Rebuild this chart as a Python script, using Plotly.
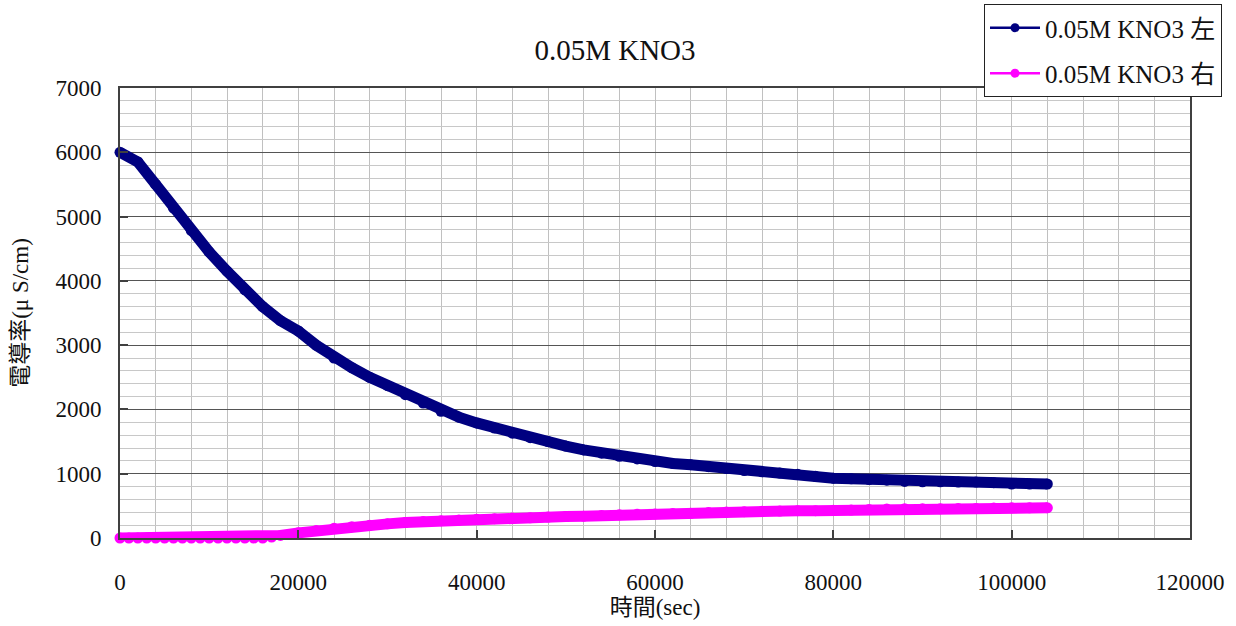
import plotly.graph_objects as go

# Measurement times (seconds), left cell
time_left = [0, 2000, 4000, 6000, 8000, 10000, 12000, 14000, 16000, 18000,
             20000, 22000, 24000, 26000, 28000, 30000, 32000, 34000, 36000, 38000,
             40000, 42000, 44000, 46000, 48000, 50000, 52000, 54000, 56000, 58000,
             60000, 62000, 64000, 66000, 68000, 70000, 72000, 74000, 76000, 78000,
             80000, 82000, 84000, 86000, 88000, 90000, 92000, 94000, 96000, 98000,
             100000, 102000, 104000]

# Conductivity, left cell (uS/cm)
cond_left = [6000, 5850, 5500, 5130, 4780, 4450, 4150, 3860, 3600, 3380,
             3220, 3000, 2800, 2650, 2500, 2370, 2230, 2100, 1970, 1880,
             1790, 1710, 1630, 1560, 1500, 1430, 1370, 1320, 1270, 1230,
             1190, 1160, 1140, 1110, 1080, 1050, 1030, 1010, 990, 960,
             930, 920, 910, 900, 880, 875, 875, 870, 870, 860,
             840, 840, 840]

# Measurement times (seconds), right cell
time_right = [0, 1000, 2000, 3000, 4000, 5000, 6000, 7000, 8000, 9000,
              10000, 11000, 12000, 13000, 14000, 15000, 16000, 17000, 18000,
              20000, 22000, 24000, 26000, 28000, 30000, 32000, 34000, 36000, 38000,
              40000, 42000, 44000, 46000, 48000, 50000, 52000, 54000, 56000, 58000,
              60000, 62000, 64000, 66000, 68000, 70000, 72000, 74000, 76000, 78000,
              80000, 82000, 84000, 86000, 88000, 90000, 92000, 94000, 96000, 98000,
              100000, 102000, 104000]

# Conductivity, right cell (uS/cm)
cond_right = [0, 0, 0, 0, 0, 0, 0, 0, 0, 0,
              0, 0, 0, 0, 0, 0, 0, 15, 40,
              80, 115, 150, 175, 200, 220, 240, 255, 270, 280,
              290, 300, 310, 315, 325, 335, 340, 350, 360, 370,
              375, 380, 385, 395, 405, 410, 415, 420, 425, 425,
              430, 435, 445, 450, 455, 455, 455, 460, 460, 465,
              470, 470, 470]

series_names = ["0.05M KNO3 左", "0.05M KNO3 右"]
series_colors = ["#000080", "#FF00FF"]

x_ticks = [0, 20000, 40000, 60000, 80000, 100000, 120000]
y_ticks = [0, 1000, 2000, 3000, 4000, 5000, 6000, 7000]

SERIF = "Liberation Serif, Times New Roman, Noto Sans CJK TC, serif"

fig = go.Figure()

series = [(time_left, cond_left), (time_right, cond_right)]
for (xs, ys), name, color, grp in zip(series, series_names, series_colors, ["a", "b"]):
    # data trace (thick line with dense markers)
    fig.add_trace(go.Scatter(
        x=xs, y=ys, mode="lines+markers", name=name,
        line=dict(color=color, width=11),
        marker=dict(color=color, size=11),
        showlegend=False, cliponaxis=False,
    ))
    # legend entry with thin line and small marker
    fig.add_trace(go.Scatter(
        x=[None], y=[None], mode="lines+markers", name=name,
        line=dict(color=color, width=2.5),
        marker=dict(color=color, size=9),
        legendgroup=grp, showlegend=True,
    ))

fig.update_layout(
    width=1236, height=626,
    margin=dict(l=120, r=46, t=88, b=88, autoexpand=False),
    paper_bgcolor="white", plot_bgcolor="white",
    font=dict(family=SERIF, size=23, color="#111111"),
    title=dict(text="0.05M KNO3", x=615 / 1236, xanchor="center",
               y=1 - 50 / 626, yanchor="middle",
               font=dict(family=SERIF, size=29, color="#111111")),
    legend=dict(
        xref="container", yref="container",
        x=984 / 1236, y=1 - 4 / 626, xanchor="left", yanchor="top",
        bgcolor="white", bordercolor="#222222", borderwidth=1,
        font=dict(family=SERIF, size=25, color="#111111"),
        tracegroupgap=10, itemwidth=50,
    ),
    showlegend=True,
)

fig.update_xaxes(
    range=[0, 120000], tickvals=x_ticks, ticktext=[str(v) for v in x_ticks],
    showgrid=True, gridcolor="#c0c0c0", gridwidth=1,
    minor=dict(dtick=4000, tick0=0, showgrid=True, gridcolor="#c0c0c0", gridwidth=1),
    showline=True, linecolor="#404040", linewidth=2, mirror=True,
    ticks="inside", ticklen=8, tickcolor="#404040", tickwidth=2,
    ticklabelstandoff=22, zeroline=False,
    title=dict(text="時間(sec)", standoff=0,
               font=dict(family=SERIF, size=23, color="#111111")),
)

fig.update_yaxes(
    range=[0, 7000], tickvals=y_ticks, ticktext=[str(v) for v in y_ticks],
    showgrid=True, gridcolor="#555555", gridwidth=1.2,
    minor=dict(dtick=200, tick0=0, showgrid=True, gridcolor="#c8c8c8", gridwidth=1),
    showline=True, linecolor="#404040", linewidth=2, mirror=True,
    ticks="inside", ticklen=8, tickcolor="#404040", tickwidth=2,
    ticklabelstandoff=12, zeroline=False,
    title=dict(text="電導率(μ S/cm)", standoff=20,
               font=dict(family=SERIF, size=23, color="#111111")),
)

fig.write_html("out.html")
